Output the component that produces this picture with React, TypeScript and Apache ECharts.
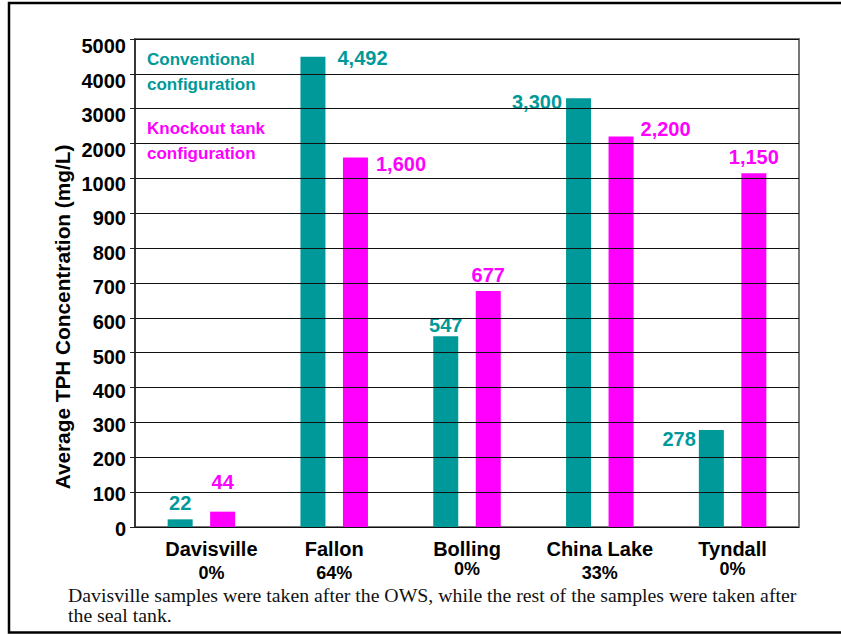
import React, { useEffect, useRef } from "react";
import * as echarts from "echarts";

const categories = ["Davisville", "Fallon", "Bolling", "China Lake", "Tyndall"];
const reductions = ["0%", "64%", "0%", "33%", "0%"];
const conventional = [22, 4492, 547, 3300, 278];
const knockout = [44, 1600, 677, 2200, 1150];
const yTickLabels = [0, 100, 200, 300, 400, 500, 600, 700, 800, 900, 1000, 2000, 3000, 4000, 5000];
const seriesNames = ["Conventional\nconfiguration", "Knockout tank\nconfiguration"];
const axisTitle = "Average TPH Concentration (mg/L)";
const footnote =
  "Davisville samples were taken after the OWS, while the rest of the samples were taken after\nthe seal tank.";

const TEAL = "#009999";
const MAGENTA = "#FF00FF";
const SANS = "'Liberation Sans', Arial, Helvetica, sans-serif";
const NARROW = "'Liberation Sans Narrow', 'Liberation Sans', Arial, sans-serif";

// broken axis: 0..1000 linear, then each 1000 occupies one 100-step
const toAxis = (v: number) => (v <= 1000 ? v : 1000 + (v - 1000) / 10);
const tickIndex = (d: number) => Math.round(d / 100);

const pctGap = ["A", "A", "B", "A", "B"];

const convLabels: any[] = [
  { position: "top", distance: 6 },
  { position: ["100%", 0], offset: [12, 1], align: "left", verticalAlign: "middle" },
  { position: "top", distance: 1 },
  { position: [0, 0], offset: [-4, 4], align: "right", verticalAlign: "middle" },
  { position: [0, 0], offset: [-3, 9], align: "right", verticalAlign: "middle" },
];
const knockLabels: any[] = [
  { position: "top", distance: 20 },
  { position: ["100%", 0], offset: [8, 6], align: "left", verticalAlign: "middle" },
  { position: "top", distance: 6 },
  { position: ["100%", 0], offset: [7, -8], align: "left", verticalAlign: "middle" },
  { position: "top", distance: 6 },
];

const fmt = (v: number) => v.toLocaleString("en-US");

export default function App() {
  const ref = useRef<HTMLDivElement>(null);
  useEffect(() => {
    if (!ref.current) return;
    const chart = echarts.init(ref.current, undefined, { renderer: "svg" });
    const mkData = (vals: number[], labels: any[], color: string) =>
      vals.map((v, i) => ({
        value: toAxis(v),
        raw: v,
        label: {
          show: true,
          color,
          fontSize: 20,
          fontWeight: "bold",
          fontFamily: SANS,
          formatter: () => fmt(v),
          ...labels[i],
        },
      }));
    const pctBase = { fontSize: 18, fontWeight: "bold", lineHeight: 18, fontFamily: NARROW, color: "#000" };
    const yRich: any = {};
    yTickLabels.forEach((_, i) => {
      const shift = Math.round(1.5 + 0.4 * i);
      yRich["t" + i] = {
        fontSize: 20,
        fontWeight: "bold",
        color: "#000",
        fontFamily: SANS,
        lineHeight: 20,
        padding: [shift * 2, 0, 0, 0],
      };
    });
    const option: any = {
      animation: false,
      backgroundColor: "#fff",
      textStyle: { fontFamily: SANS },
      grid: {
        left: 135,
        right: 42,
        top: 39,
        bottom: 107,
        show: true,
        borderColor: "#777",
        borderWidth: 2,
        backgroundColor: "transparent",
      },
      legend: {
        orient: "vertical",
        left: 137,
        top: 42,
        icon: "none",
        itemWidth: 0,
        itemHeight: 0,
        itemGap: 19,
        selectedMode: false,
        data: [
          { name: seriesNames[0], textStyle: { color: TEAL } },
          { name: seriesNames[1], textStyle: { color: MAGENTA } },
        ],
        textStyle: { fontSize: 17, fontWeight: "bold", lineHeight: 25, fontFamily: SANS },
      },
      xAxis: {
        type: "category",
        data: categories,
        axisTick: { show: false },
        axisLine: { lineStyle: { color: "#777", width: 2 } },
        axisLabel: {
          interval: 0,
          margin: 11,
          color: "#000",
          formatter: (val: string, idx: number) => {
            const d = idx === 0 ? "D" : "";
            return `{n${d}|${val}}\n{p${pctGap[idx]}${d}|${reductions[idx]}}`;
          },
          rich: {
            n: { fontSize: 20, fontWeight: "bold", lineHeight: 22, fontFamily: SANS, color: "#000" },
            nD: { fontSize: 20, fontWeight: "bold", lineHeight: 22, fontFamily: SANS, color: "#000", padding: [0, 0, 0, 20] },
            pA: { ...pctBase, padding: [8, 0, 0, 0] },
            pAD: { ...pctBase, padding: [8, 0, 0, 20] },
            pB: { ...pctBase },
          },
        },
      },
      yAxis: {
        type: "value",
        min: 0,
        max: (yTickLabels.length - 1) * 100,
        interval: 100,
        z: 5,
        axisLine: { show: true, lineStyle: { color: "#222", width: 1.5 } },
        axisTick: { show: true, length: 5, lineStyle: { color: "#222" } },
        splitLine: { lineStyle: { color: "#111", width: 1 } },
        axisLabel: {
          margin: 9,
          color: "#000",
          formatter: (v: number) => {
            const i = tickIndex(v);
            return `{t${i}|${yTickLabels[i]}}`;
          },
          rich: yRich,
        },
      },
      series: [
        {
          name: seriesNames[0],
          type: "bar",
          barWidth: 25,
          barGap: "70%",
          itemStyle: { color: TEAL },
          data: mkData(conventional, convLabels, TEAL),
        },
        {
          name: seriesNames[1],
          type: "bar",
          barWidth: 25,
          itemStyle: { color: MAGENTA },
          data: mkData(knockout, knockLabels, MAGENTA),
        },
      ],
      graphic: [
        {
          type: "rect",
          silent: true,
          shape: { x: 9, y: 3, width: 900, height: 629.5 },
          style: { fill: "none", stroke: "#000", lineWidth: 2.5 },
        },
        {
          type: "text",
          x: 62,
          y: 317,
          rotation: Math.PI / 2,
          style: {
            text: axisTitle,
            fontSize: 20.8,
            fontWeight: "bold",
            fontFamily: SANS,
            fill: "#000",
            align: "center",
            verticalAlign: "middle",
          },
        },
        {
          type: "text",
          left: 68,
          top: 585,
          style: {
            text: footnote,
            fontSize: 19.8,
            fontFamily: "'Liberation Serif', 'Times New Roman', serif",
            lineHeight: 20,
            fill: "#111",
          },
        },
      ],
    };
    chart.setOption(option);
    return () => chart.dispose();
  }, []);
  return (
    <div
      ref={ref}
      style={{ position: "absolute", left: 0, top: 0, width: 841, height: 634 }}
    />
  );
}
